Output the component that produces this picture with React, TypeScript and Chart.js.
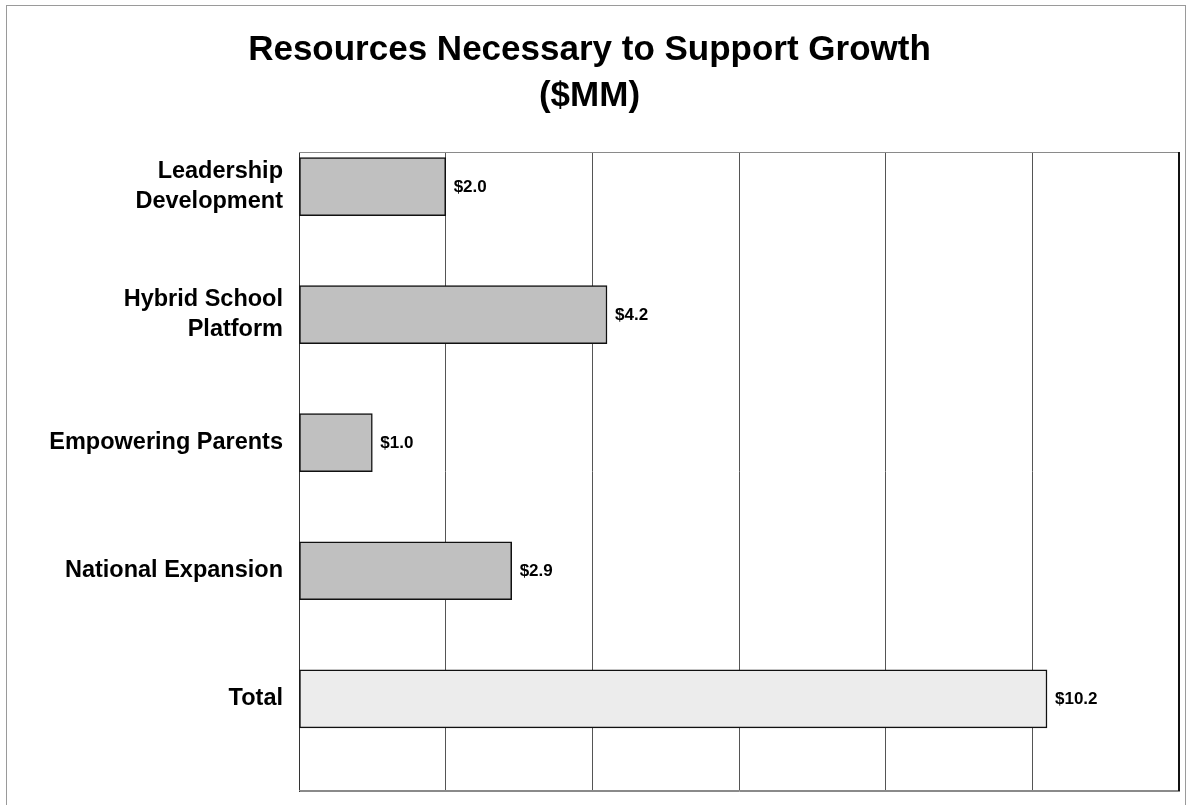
import React, { useEffect, useRef } from "react";
import { Chart, registerables } from "chart.js";

Chart.register(...registerables);

const categories: string[][] = [
  ["Leadership", "Development"],
  ["Hybrid School", "Platform"],
  ["Empowering Parents"],
  ["National Expansion"],
  ["Total"],
];
const values: number[] = [2.0, 4.2, 1.0, 2.9, 10.2];
const valueLabels: string[] = ["$2.0", "$4.2", "$1.0", "$2.9", "$10.2"];
const titleLines: string[] = ["Resources Necessary to Support Growth", "($MM)"];

const FONT = '"Liberation Sans", Arial, Helvetica, sans-serif';
const BAR_FILL = "#c0c0c0";
const TOTAL_FILL = "#ececec";

const framePlugin = {
  id: "frame",
  beforeDraw(chart: any) {
    const ctx = chart.ctx;
    ctx.save();
    ctx.fillStyle = "#ffffff";
    ctx.fillRect(0, 0, chart.width, chart.height);
    ctx.strokeStyle = "#9a9a9a";
    ctx.lineWidth = 1;
    ctx.strokeRect(6.5, 5.5, chart.width - 12, chart.height + 20);
    ctx.restore();
  },
  beforeDatasetsDraw(chart: any) {
    const { ctx, chartArea } = chart;
    const { left, right, top, bottom } = chartArea;
    ctx.save();
    ctx.strokeStyle = "#8a8a8a";
    ctx.lineWidth = 1;
    ctx.beginPath();
    ctx.moveTo(left, top + 0.5);
    ctx.lineTo(right, top + 0.5);
    ctx.moveTo(left, bottom - 0.5);
    ctx.lineTo(right, bottom - 0.5);
    ctx.stroke();
    ctx.strokeStyle = "#111111";
    ctx.lineWidth = 2;
    ctx.beginPath();
    ctx.moveTo(right, top);
    ctx.lineTo(right, bottom);
    ctx.stroke();
    ctx.restore();
  },
};

const valueLabelPlugin = {
  id: "valueLabels",
  afterDatasetsDraw(chart: any) {
    const ctx = chart.ctx;
    const meta = chart.getDatasetMeta(0);
    ctx.save();
    ctx.font = `bold 17px ${FONT}`;
    ctx.fillStyle = "#000000";
    ctx.textAlign = "left";
    ctx.textBaseline = "middle";
    meta.data.forEach((bar: any, i: number) => {
      ctx.fillText(valueLabels[i], bar.x + 8, bar.y + 1);
    });
    ctx.restore();
  },
};

export default function App() {
  const canvasRef = useRef<HTMLCanvasElement | null>(null);

  useEffect(() => {
    if (!canvasRef.current) return;
    const chart = new Chart(canvasRef.current, {
      type: "bar",
      data: {
        datasets: [
          {
            data: values.map((v, i) => ({ x: v, y: i })),
            backgroundColor: (c: any) =>
              c.dataIndex === values.length - 1 ? TOTAL_FILL : BAR_FILL,
            borderColor: "#111111",
            borderWidth: 1.5,
            borderSkipped: false,
            barThickness: 58,
          } as any,
        ],
      },
      plugins: [framePlugin, valueLabelPlugin],
      options: {
        indexAxis: "y",
        animation: false,
        responsive: false,
        maintainAspectRatio: false,
        layout: { padding: { top: 0, left: 0, right: 12, bottom: 14 } },
        plugins: {
          legend: { display: false },
          tooltip: { enabled: false },
          title: {
            display: true,
            text: titleLines,
            color: "#000000",
            font: { family: FONT, size: 35, weight: "bold", lineHeight: 46 / 35 },
            padding: { top: 27, bottom: 33 },
          },
        },
        scales: {
          x: {
            type: "linear",
            min: 0,
            max: 12,
            ticks: { display: false, stepSize: 2 },
            grid: { color: "#555555", lineWidth: 1, drawTicks: false },
            border: { display: true, color: "#8a8a8a" },
          },
          y: {
            type: "linear",
            reverse: true,
            offset: false,
            min: -0.27,
            max: 4.72,
            afterBuildTicks: (scale: any) => {
              scale.ticks = categories.map((_, i) => ({ value: i }));
            },
            afterFit: (scale: any) => {
              scale.width = 299;
              scale.paddingTop = 0;
              scale.paddingBottom = 0;
            },
            ticks: {
              callback: (v: any) => categories[Number(v)] ?? "",
              color: "#000000",
              padding: 16,
              font: { family: FONT, size: 23.5, weight: "bold", lineHeight: 1.28 },
            },
            grid: { display: false, drawTicks: false },
            border: { display: true, color: "#333333", width: 1 },
          },
        },
      } as any,
    });
    return () => chart.destroy();
  }, []);

  return (
    <div style={{ position: "absolute", left: 0, top: 0, width: 1191, height: 805 }}>
      <canvas ref={canvasRef} width={1191} height={805} style={{ display: "block" }} />
    </div>
  );
}
